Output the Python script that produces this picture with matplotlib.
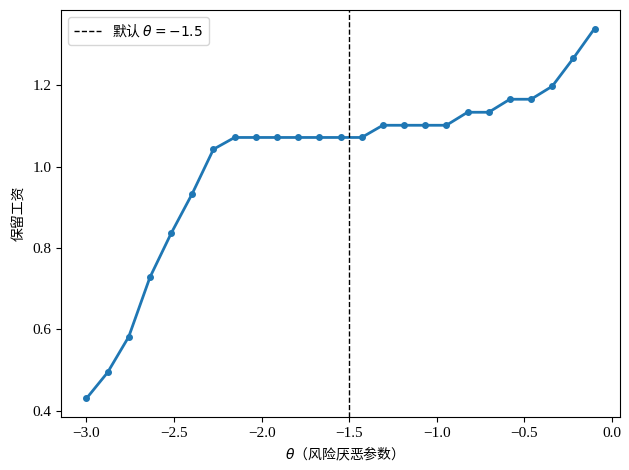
import numpy as np
import matplotlib
matplotlib.use("Agg")
import matplotlib.pyplot as plt

theta = np.linspace(-3.0, -0.1, 25)
wage = [0.430, 0.494, 0.582, 0.728, 0.836, 0.934, 1.043, 1.072, 1.072, 1.072,
        1.072, 1.072, 1.072, 1.072, 1.102, 1.102, 1.102, 1.102, 1.134, 1.134,
        1.166, 1.166, 1.198, 1.267, 1.340]
default_theta = -1.5
xlabel = r"$\theta$（风险厌恶参数）"
ylabel = "保留工资"
legend_label = r"默认 $\theta=-1.5$"

plt.rcParams['font.family'] = ['Liberation Serif', 'Noto Sans CJK SC', 'DejaVu Sans']
plt.rcParams['mathtext.fontset'] = 'dejavusans'

fig = plt.figure(figsize=(6.29, 4.70), dpi=100)
ax = fig.add_axes([61/629, 1 - 417/470, (620-61)/629, (417-10)/470])
ax.plot(theta, wage, color='#1f77b4', linewidth=2, marker='o', markersize=4)
ax.axvline(default_theta, color='black', linestyle='--', linewidth=1, label=legend_label)
ax.set_xlabel(xlabel, family=['Noto Sans CJK SC', 'DejaVu Sans'], fontsize=10)
ax.set_ylabel(ylabel, family=['Noto Sans CJK SC', 'DejaVu Sans'], fontsize=10)
ax.tick_params(labelsize=11)
ax.legend(loc='upper left', prop={'family': ['Noto Sans CJK SC', 'DejaVu Sans'], 'size': 10})
fig.savefig("out.png", dpi=100)
